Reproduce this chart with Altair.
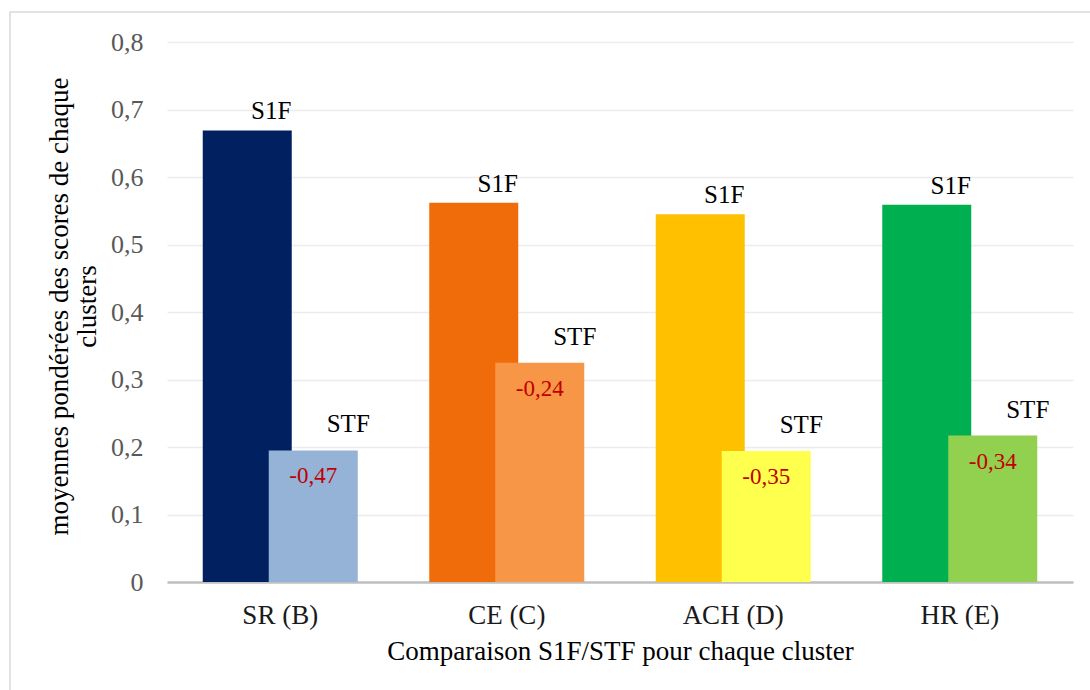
import altair as alt
import pandas as pd

# Weighted mean scores per cluster, for the two groups compared
clusters = ["SR (B)", "CE (C)", "ACH (D)", "HR (E)"]
s1f_values = [0.669, 0.562, 0.545, 0.559]
stf_values = [0.195, 0.325, 0.194, 0.217]
s1f_colors = ["#002060", "#f06c0a", "#ffc000", "#00b050"]
stf_colors = ["#95b3d7", "#f79646", "#ffff4d", "#92d050"]

FONT = "Liberation Serif, Times New Roman, serif"

rows = []
for c, a, b, ca, cb in zip(clusters, s1f_values, stf_values, s1f_colors, stf_colors):
    diff = b - a
    rows.append({"cluster": c, "serie": "S1F", "value": a, "key": c + "|S1F",
                 "color": ca, "diff": ""})
    rows.append({"cluster": c, "serie": "STF", "value": b, "key": c + "|STF",
                 "color": cb, "diff": f"{diff:.2f}".replace(".", ",")})
df = pd.DataFrame(rows)

keys = list(df["key"])
colors = list(df["color"])

x_enc = alt.X(
    "cluster:N",
    sort=clusters,
    scale=alt.Scale(paddingInner=0, paddingOuter=0),
    axis=alt.Axis(
        title="Comparaison S1F/STF pour chaque cluster",
        labelAngle=0,
        ticks=False,
        grid=False,
        domainColor="#bfbfbf",
        domainWidth=2.5,
        labelFont=FONT,
        labelFontSize=27,
        labelColor="#1a1a1a",
        labelBaseline="alphabetic",
        labelPadding=41,
        titleFont=FONT,
        titleFontSize=27,
        titleFontWeight="normal",
        titleColor="#000000",
        titleBaseline="alphabetic",
        titleY=77,
    ),
)

y_enc = alt.Y(
    "value:Q",
    scale=alt.Scale(domain=[0, 0.8]),
    axis=alt.Axis(
        title=["moyennes pondérées des scores de chaque", "clusters"],
        values=[0, 0.1, 0.2, 0.3, 0.4, 0.5, 0.6, 0.7, 0.8],
        labelExpr="replace(format(datum.value, '.1~f'), '.', ',')",
        ticks=False,
        domain=False,
        gridColor="#ececec",
        gridWidth=1.5,
        labelFont=FONT,
        labelFontSize=26,
        labelColor="#595959",
        labelPadding=24,
        titleFont=FONT,
        titleFontSize=27,
        titleFontWeight="normal",
        titleColor="#000000",
        titleAngle=-90,
        titleAlign="center",
        titleBaseline="top",
        titleLineHeight=28,
        titleX=-121,
        titleY=264,
    ),
)

color_enc = alt.Color("key:N", scale=alt.Scale(domain=keys, range=colors), legend=None)

base = alt.Chart(df)

frame = alt.Chart(alt.Data(values=[{}])).mark_rect(
    fill="transparent", stroke="#d9d9d9", strokeWidth=1.5
).encode(
    x=alt.value(-157), x2=alt.value(1120), y=alt.value(-30), y2=alt.value(720)
)

bars_s1f = base.transform_filter(alt.datum.serie == "S1F").mark_bar(
    size=89, xOffset=-33
).encode(x=x_enc, y=y_enc, color=color_enc)

bars_stf = base.transform_filter(alt.datum.serie == "STF").mark_bar(
    size=89, xOffset=33
).encode(x=x_enc, y=y_enc, color=color_enc)

lab_s1f = base.transform_filter(alt.datum.serie == "S1F").mark_text(
    font=FONT, fontSize=25, color="#000000", xOffset=-9, dy=-19, baseline="middle"
).encode(x=x_enc, y=y_enc, text="serie:N")

lab_stf = base.transform_filter(alt.datum.serie == "STF").mark_text(
    font=FONT, fontSize=25, color="#000000", xOffset=68, dy=-26, baseline="middle"
).encode(x=x_enc, y=y_enc, text="serie:N")

lab_diff = base.transform_filter(alt.datum.serie == "STF").mark_text(
    font=FONT, fontSize=23, color="#c00000", xOffset=33, dy=26, baseline="middle"
).encode(x=x_enc, y=y_enc, text="diff:N")

chart = alt.layer(frame, bars_s1f, bars_stf, lab_s1f, lab_stf, lab_diff).properties(
    width=906,
    height=540,
    autosize=alt.AutoSizeParams(type="none"),
    padding={"left": 167, "top": 42, "right": 17, "bottom": 108},
    background="#ffffff",
).configure_view(stroke=None)

chart.save("out.html", embed_options={"renderer": "svg", "actions": False})
